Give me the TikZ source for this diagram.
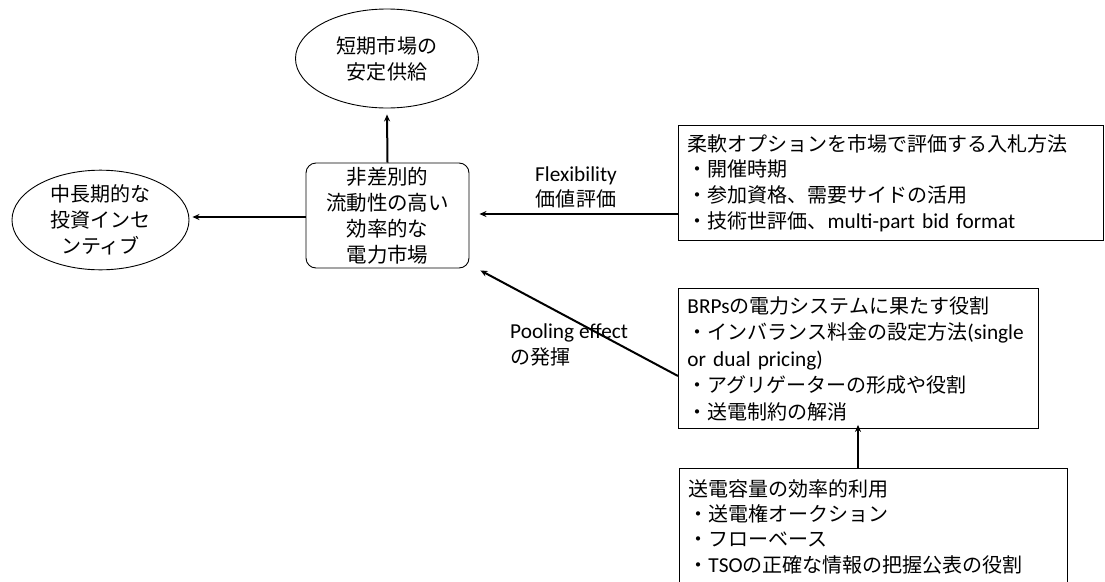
\documentclass[tikz,border=0pt]{standalone}
\usepackage{fontspec}
\setmainfont{Carlito}
\newfontfamily\jp[Scale=0.94]{Noto Sans CJK JP}
\newcommand\JPtext[1]{{\jp #1}}
\usetikzlibrary{shapes.geometric,arrows.meta}
\tikzset{
  arr/.style={line width=2pt,-{Stealth[length=7pt,width=6pt]}},
  oval/.style={ellipse,draw,line width=0.9pt,inner sep=0pt,align=center,font=\jp\fontsize{21.3}{26}\selectfont},
  mainbox/.style={draw,line width=0.9pt,rounded corners=10pt,align=center,inner sep=0pt,font=\jp\fontsize{21.8}{26}\selectfont},
  infobox/.style={draw,line width=0.9pt,align=left,inner xsep=9pt,inner ysep=0pt,anchor=north west},
  lbl/.style={inner sep=0pt,font=\fontsize{21.3}{25.5}\selectfont}
}
\begin{document}
\begin{tikzpicture}[x=1pt,y=-1pt]
\useasboundingbox (0,0) rectangle (1105,581);
\clip (0,0) rectangle (1105,581);
\node[oval,minimum width=183pt,minimum height=99pt] (top) at (387,58.5) {短期市場の\\安定供給};
\node[oval,minimum width=177pt,minimum height=89pt] (left) at (100.5,220) {中長期的な\\投資インセ\\ンティブ};
\node[mainbox,minimum width=163pt,minimum height=105pt] (main) at (387.5,215.5) {非差別的\\流動性の高い\\効率的な\\電力市場};
\node[infobox,minimum width=425pt,minimum height=115pt,text width=407pt,font=\fontsize{21.3}{25.7}\selectfont] (flex) at (678,125)
 {\JPtext{柔軟オプションを市場で評価する入札方法}\\\JPtext{・開催時期}\\\JPtext{・参加資格、需要サイドの活用}\\\JPtext{・技術世評価、}multi-part bid format};
\node[infobox,minimum width=360pt,minimum height=140pt,text width=342pt,font=\fontsize{21.3}{26.5}\selectfont] (brp) at (678,288)
 {BRPs\JPtext{の電力システムに果たす役割}\\\JPtext{・インバランス料金の設定方法}(single\\or dual pricing)\\\JPtext{・アグリゲーターの形成や役割}\\\JPtext{・送電制約の解消}};
\node[infobox,minimum width=388pt,minimum height=116pt,text width=370pt,font=\fontsize{21.3}{25.3}\selectfont] (bot) at (679,468)
 {\JPtext{送電容量の効率的利用}\\\JPtext{・送電権オークション}\\\JPtext{・フローベース}\\\JPtext{・}TSO\JPtext{の正確な情報の把握公表の役割}};
\node[lbl,align=center] (flbl) at (576,187.5) {Flexibility\\\JPtext{価値評価}};
\node[lbl,align=left,anchor=west] (plbl) at (510,345) {Pooling effect\\\JPtext{の発揮}};
\draw[arr] (main.north) -- ([yshift=-6pt]top.south);
\draw[arr] (main.west |- 0,217) -- ([xshift=3pt]left.east |- 0,217);
\draw[arr] (flex.west |- 0,214) -- ([xshift=10pt]main.east |- 0,214);
\draw[arr] (brp.west |- 0,376) -- ([xshift=11pt,yshift=-2pt]main.south east);
\draw[arr] (bot.north -| 858,0) -- ([yshift=4pt]brp.south -| 858,0);
\end{tikzpicture}
\end{document}
